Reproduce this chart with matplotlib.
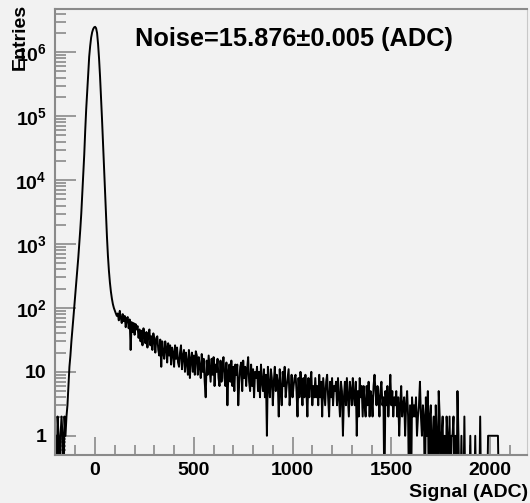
import numpy as np
import matplotlib
matplotlib.use("Agg")
import matplotlib.pyplot as plt
from matplotlib.ticker import FixedLocator, FixedFormatter, MultipleLocator, LogLocator, NullFormatter

plt.rcParams['font.family'] = ['Liberation Sans', 'DejaVu Sans']
plt.rcParams['font.weight'] = 'bold'
plt.rcParams['mathtext.fontset'] = 'custom'
plt.rcParams['mathtext.bf'] = 'Liberation Sans:bold'
plt.rcParams['mathtext.rm'] = 'Liberation Sans:bold'

# bins are 5 ADC wide, first bin centre at -200
x_start = -200
bin_width = 5

# pedestal peak, -200 .. 110
peak_counts = [
    1, 0, 2, 1, 0, 1, 2, 1, 0, 2,
    1, 2, 3, 6, 12, 18, 30, 45, 70, 110,
    170, 260, 400, 620, 1000, 1700, 3000, 6000, 12000, 25000,
    60000, 130000, 250000, 450000, 850000, 1250000, 1700000, 2050000, 2300000, 2450000,
    2500000, 2380000, 2000000, 1350000, 800000, 420000, 200000, 90000, 38000, 15000,
    6500, 2800, 1300, 650, 380, 250, 180, 140, 115, 100,
    90, 82, 75,
]

# signal tail, 115 .. 2060 (one row = 100 ADC)
tail_counts = [
    82, 64, 90, 70, 58, 80, 62, 75, 50, 68, 72, 48, 66, 22, 60, 42, 58, 38, 56, 46,
    52, 34, 46, 30, 44, 26, 48, 36, 28, 42, 24, 38, 46, 26, 36, 22, 40, 32, 20, 34,
    36, 22, 18, 32, 12, 30, 20, 16, 30, 24, 14, 28, 18, 26, 13, 24, 20, 12, 26, 16,
    24, 14, 12, 20, 26, 11, 18, 22, 10, 20, 14, 9, 22, 8, 16, 20, 10, 18, 9, 21,
    18, 9, 17, 12, 8, 19, 10, 16, 7, 4, 15, 9, 18, 11, 7, 16, 9, 17, 6, 13,
    10, 16, 8, 6, 15, 7, 12, 17, 8, 6, 14, 3, 10, 13, 7, 15, 6, 12, 5, 13,
    9, 13, 3, 7, 12, 14, 5, 15, 8, 12, 6, 11, 17, 7, 5, 13, 6, 11, 4, 10,
    8, 12, 5, 10, 4, 13, 7, 5, 11, 4, 9, 1, 12, 6, 4, 11, 8, 3, 7, 12,
    5, 9, 7, 2, 11, 5, 3, 10, 6, 12, 4, 6, 8, 11, 3, 5, 9, 4, 6, 8,
    9, 5, 2, 8, 4, 10, 6, 3, 8, 4, 9, 5, 2, 8, 4, 7, 10, 3, 6, 4,
    8, 4, 6, 3, 9, 4, 7, 2, 8, 5, 3, 7, 9, 4, 2, 7, 4, 8, 3, 6,
    5, 7, 3, 8, 4, 2, 7, 5, 1, 4, 7, 3, 8, 4, 2, 7, 5, 3, 8, 4,
    3, 7, 1, 5, 2, 8, 4, 6, 2, 6, 3, 2, 6, 3, 7, 2, 5, 4, 2, 6,
    9, 5, 3, 6, 4, 2, 5, 7, 3, 4, 0, 5, 3, 6, 2, 4, 9, 3, 5, 2,
    4, 3, 5, 2, 4, 1, 3, 6, 2, 3, 4, 1, 3, 5, 2, 0, 3, 0, 4, 2,
    3, 2, 4, 1, 2, 3, 7, 2, 1, 3, 2, 0, 4, 1, 5, 0, 2, 3, 0, 1,
    2, 0, 3, 1, 0, 5, 2, 0, 1, 2, 0, 1, 0, 2, 1, 0, 2, 0, 1, 1,
    2, 0, 1, 0, 5, 1, 0, 0, 1, 0, 0, 2, 0, 0, 0, 0, 0, 1, 0, 0,
    0, 0, 1, 0, 0, 0, 0, 2, 0, 0, 0, 0, 0, 0, 0, 1, 1, 1, 1, 1,
    1, 1, 1, 1, 1, 1, 0, 0, 0, 0,
]

noise_text = "Noise=15.876\u00b10.005 (ADC)"

counts = np.array(peak_counts + tail_counts, dtype=float)
centers = x_start + bin_width * np.arange(len(counts))
# empty bins fall below the log axis
plot_counts = np.where(counts > 0, counts, 0.1)

bg = '#f2f2f2'
axis_col = '#8a8a8a'

fig = plt.figure(figsize=(5.30, 5.03), dpi=100, facecolor=bg)
ax = fig.add_axes([0.1038, 0.0954, 0.8905, 0.8867], facecolor=bg)

ax.plot(centers, plot_counts, color='black', lw=1.4)

ax.set_yscale('log')
ax.set_xlim(-203, 2187)
ax.set_ylim(0.5, 4.75e6)

ax.xaxis.set_major_locator(FixedLocator([0, 500, 1000, 1500, 2000]))
ax.xaxis.set_minor_locator(MultipleLocator(100))
y_ticks = [1, 10, 1e2, 1e3, 1e4, 1e5, 1e6]
y_labels = ['1', '10', r'$\mathbf{10^{2}}$', r'$\mathbf{10^{3}}$', r'$\mathbf{10^{4}}$',
            r'$\mathbf{10^{5}}$', r'$\mathbf{10^{6}}$']
ax.yaxis.set_major_locator(FixedLocator(y_ticks))
ax.yaxis.set_major_formatter(FixedFormatter(y_labels))
ax.yaxis.set_minor_locator(LogLocator(base=10, subs=np.arange(2, 10), numticks=20))
ax.yaxis.set_minor_formatter(NullFormatter())

ax.tick_params(which='both', direction='in', color=axis_col, labelsize=14)
ax.tick_params(axis='x', which='major', length=13, width=1.2, pad=5)
ax.tick_params(axis='x', which='minor', length=7, width=1.2)
ax.tick_params(axis='y', which='major', length=15, width=1.2, pad=6)
ax.tick_params(axis='y', which='minor', length=8, width=1.2)
for side in ['left', 'bottom', 'top', 'right']:
    ax.spines[side].set_color(axis_col)
ax.spines['left'].set_linewidth(1.5)
ax.spines['bottom'].set_linewidth(1.5)
ax.spines['top'].set_linewidth(1.5)
ax.spines['right'].set_linewidth(0.8)
ax.spines['right'].set_color('#c8c8c8')

fig.text(0.997, 0.004, 'Signal (ADC)', ha='right', va='bottom', fontsize=14, fontweight='bold')
# the reference puts the axis title on top of the 10^6 label, kept as is
fig.text(0.038, 0.992, 'Entries', rotation=90, ha='center', va='top', fontsize=14, fontweight='bold')
fig.text(0.555, 0.922, noise_text, ha='center', va='center', fontsize=18.3, fontweight='bold')

fig.savefig('out.png', dpi=100, facecolor=bg)
